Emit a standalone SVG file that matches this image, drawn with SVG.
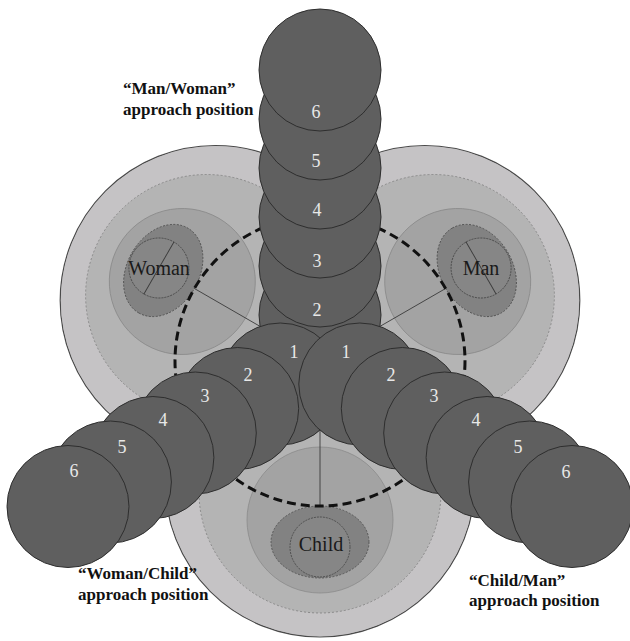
<svg xmlns="http://www.w3.org/2000/svg" width="630" height="641" viewBox="0 0 630 641">
<style>
.outerS{fill:#c5c3c5;stroke:#4a4a4a;stroke-width:1.2}
.outerF{fill:#c5c3c5;stroke:none}
.dash{fill:#b4b4b4;stroke:#7e7e7e;stroke-width:0.8;stroke-dasharray:2 2}
.med{fill:#a3a3a3;stroke:#8a8a8a;stroke-width:0.8}
.dark{fill:#828282;stroke:#4a4a4a;stroke-width:0.8;stroke-dasharray:2 1.5}
.inner{fill:#868686;stroke:#444;stroke-width:0.8;stroke-dasharray:2 1}
.ln{stroke:#3a3a3a;stroke-width:0.9;fill:none}
.big{fill:none;stroke:#111;stroke-width:3;stroke-dasharray:9 5}
.arm{fill:#5f5f5f;stroke:#2e2e2e;stroke-width:1}
.num{font-family:"Liberation Serif","Times New Roman",serif;font-size:18px;fill:#e8e8e8;text-anchor:middle}
.who{font-family:"Liberation Serif","Times New Roman",serif;font-size:20px;fill:#1a1a1a;text-anchor:middle}
.cap{font-family:"Liberation Serif","Times New Roman",serif;font-size:17px;font-weight:bold;fill:#111}
</style>

<g id="background">
  <circle class="outerS" cx="320" cy="482" r="155"/>
  <circle class="outerS" cx="215.2" cy="300.5" r="155"/>
  <circle class="outerS" cx="424.8" cy="300.5" r="155"/>
  <circle class="outerF" cx="320" cy="482" r="154.3"/>
  <circle class="outerF" cx="215.2" cy="300.5" r="154.3"/>
  <circle class="outerF" cx="424.8" cy="300.5" r="154.3"/>
  <circle class="dash" cx="320" cy="492" r="121"/>
  <circle class="dash" cx="206.6" cy="295.5" r="121"/>
  <circle class="dash" cx="433.4" cy="295.5" r="121"/>
</g>

<g id="child">
  <circle class="med" cx="320" cy="520" r="73"/>
  <ellipse class="dark" cx="320" cy="542" rx="49" ry="36"/>
  <circle class="inner" cx="320" cy="547" r="30"/>
  <text class="who" x="321" y="551">Child</text>
</g>

<g id="woman">
  <g transform="rotate(120 320 361)">
    <circle class="med" cx="320" cy="520" r="73"/>
    <ellipse class="dark" cx="320" cy="542" rx="49" ry="36"/>
    <circle class="inner" cx="320" cy="547" r="30"/>
    <line class="ln" x1="290" y1="547" x2="350" y2="547"/>
  </g>
  <text class="who" x="159" y="275">Woman</text>
</g>

<g id="man">
  <g transform="rotate(-120 320 361)">
    <circle class="med" cx="320" cy="520" r="73"/>
    <ellipse class="dark" cx="320" cy="542" rx="49" ry="36"/>
    <circle class="inner" cx="320" cy="547" r="30"/>
    <line class="ln" x1="290" y1="547" x2="350" y2="547"/>
  </g>
  <text class="who" x="481" y="275">Man</text>
</g>

<g id="connectors">
  <line class="ln" x1="320" y1="361" x2="320" y2="506"/>
  <line class="ln" x1="320" y1="361" x2="194.4" y2="288.5"/>
  <line class="ln" x1="320" y1="361" x2="445.6" y2="288.5"/>
  <circle class="big" cx="320" cy="361" r="145"/>
</g>

<g id="arm-top">
  <circle class="arm" cx="320" cy="315" r="61"/>
  <circle class="arm" cx="320" cy="266" r="61"/>
  <circle class="arm" cx="320" cy="217" r="61"/>
  <circle class="arm" cx="320" cy="168" r="61"/>
  <circle class="arm" cx="320" cy="119" r="61"/>
  <circle class="arm" cx="320" cy="70" r="61"/>
  <text class="num" x="317" y="316">2</text>
  <text class="num" x="317" y="267">3</text>
  <text class="num" x="317" y="216">4</text>
  <text class="num" x="316" y="167">5</text>
  <text class="num" x="316" y="118">6</text>
</g>

<g id="arm-left">
  <circle class="arm" cx="280.2" cy="384" r="61"/>
  <text class="num" x="294" y="358">1</text>
  <circle class="arm" cx="237.7" cy="408.5" r="61"/>
  <text class="num" x="248" y="381">2</text>
  <circle class="arm" cx="195.3" cy="433" r="61"/>
  <text class="num" x="205" y="402">3</text>
  <circle class="arm" cx="152.9" cy="457.5" r="61"/>
  <text class="num" x="163" y="426">4</text>
  <circle class="arm" cx="110.4" cy="482" r="61"/>
  <text class="num" x="122" y="453">5</text>
  <circle class="arm" cx="68" cy="506.5" r="61"/>
  <text class="num" x="74" y="477">6</text>
</g>

<g id="arm-right">
  <circle class="arm" cx="359.8" cy="384" r="61"/>
  <text class="num" x="346" y="358">1</text>
  <circle class="arm" cx="402.3" cy="408.5" r="61"/>
  <text class="num" x="391" y="381">2</text>
  <circle class="arm" cx="444.7" cy="433" r="61"/>
  <text class="num" x="434" y="402">3</text>
  <circle class="arm" cx="487.1" cy="457.5" r="61"/>
  <text class="num" x="476" y="426">4</text>
  <circle class="arm" cx="529.6" cy="482" r="61"/>
  <text class="num" x="518" y="453">5</text>
  <circle class="arm" cx="572" cy="506.5" r="61"/>
  <text class="num" x="566" y="478">6</text>
</g>

<g id="captions">
  <text class="cap" x="123" y="94">“Man/Woman”</text>
  <text class="cap" x="123" y="115">approach position</text>
  <text class="cap" x="78" y="579">“Woman/Child”</text>
  <text class="cap" x="78" y="600">approach position</text>
  <text class="cap" x="469" y="586">“Child/Man”</text>
  <text class="cap" x="469" y="606">approach position</text>
</g>
</svg>
